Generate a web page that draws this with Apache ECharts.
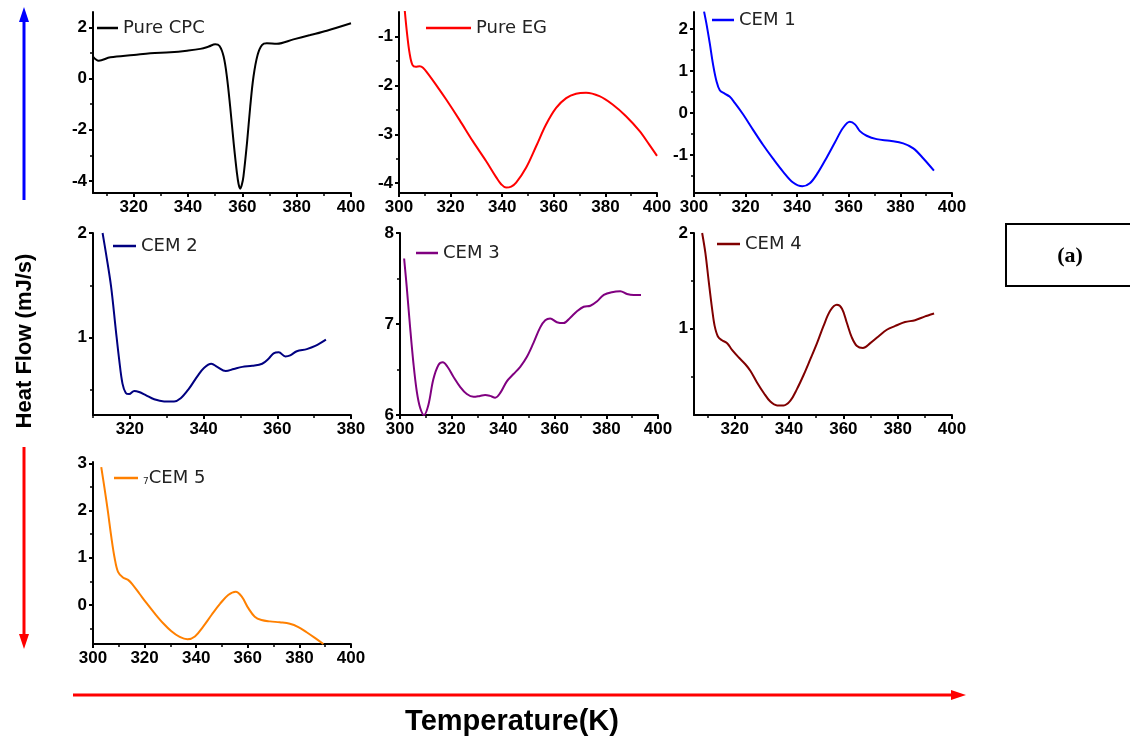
<!DOCTYPE html>
<html>
<head>
<meta charset="utf-8">
<script src="https://cdn.jsdelivr.net/npm/echarts@6/dist/echarts.min.js"></script>
<style>
html,body{margin:0;padding:0;background:#fff;}
#c{width:1130px;height:740px;}
</style>
</head>
<body>
<div id="c"></div>
<script>
// ---------- data ----------
const seriesNames = ['Pure CPC', 'Pure EG', 'CEM 1', 'CEM 2', 'CEM 3', 'CEM 4', 'CEM 5'];

const cpcT  = [305.0, 307.1, 311.4, 320, 326.1, 333.5, 339.6, 344.5, 347.6, 350, 351.6, 353.1, 354.3, 355.5, 356.8, 358, 358.6, 359.2, 359.8, 360.4, 361.7, 362.9, 364.1, 365.6, 367.2, 369, 372.7, 378.8, 385, 391.1, 400];
const cpcHF = [0.86, 0.70, 0.83, 0.92, 0.99, 1.03, 1.09, 1.16, 1.25, 1.34, 1.27, 0.86, 0.08, -1.09, -2.52, -3.69, -4.12, -4.30, -4.15, -3.82, -2.52, -1.09, 0.08, 0.92, 1.31, 1.38, 1.36, 1.53, 1.70, 1.87, 2.16];

const egT  = [302.2, 303.1, 304.1, 305.2, 306.5, 308, 309.3, 311.2, 314.5, 318.3, 323.5, 328.6, 333.8, 337.7, 339.6, 341.5, 343.5, 345.4, 349.3, 353.2, 357, 360.9, 364.8, 368.6, 372.5, 377.7, 382.8, 388, 393.2, 397, 400];
const egHF = [-0.45, -0.93, -1.34, -1.58, -1.62, -1.61, -1.64, -1.76, -2.0, -2.29, -2.71, -3.14, -3.55, -3.88, -4.02, -4.09, -4.07, -3.99, -3.68, -3.24, -2.80, -2.46, -2.26, -2.17, -2.15, -2.22, -2.39, -2.63, -2.93, -3.21, -3.44];

const cem1T  = [303.9, 304.8, 306.1, 307.4, 308.7, 310, 311.9, 313.8, 315.8, 319, 322.9, 326.8, 330.7, 334.5, 338.4, 342, 344.9, 348.1, 351.4, 354.6, 357.8, 360.4, 362.4, 364.3, 366.9, 370.8, 375.9, 381.1, 385, 388.9, 393];
const cem1HF = [2.41, 2.13, 1.66, 1.15, 0.76, 0.54, 0.46, 0.39, 0.24, -0.03, -0.40, -0.76, -1.09, -1.39, -1.65, -1.74, -1.67, -1.41, -1.06, -0.70, -0.35, -0.21, -0.27, -0.43, -0.54, -0.62, -0.66, -0.72, -0.84, -1.08, -1.37];

const cem2T  = [312.6, 313.5, 314.9, 316.2, 317.1, 318, 318.9, 319.8, 321.2, 322.5, 324.3, 326.6, 329.3, 332, 333.8, 336, 338.3, 340.1, 342.1, 343.7, 346, 348.2, 350.5, 353.2, 355.9, 357.7, 359, 360.4, 362.2, 363.5, 365.3, 368, 370.3, 373.2];
const cem2HF = [2.0, 1.81, 1.49, 1.07, 0.79, 0.56, 0.47, 0.46, 0.49, 0.48, 0.45, 0.41, 0.39, 0.39, 0.42, 0.51, 0.63, 0.71, 0.75, 0.72, 0.68, 0.70, 0.72, 0.73, 0.75, 0.80, 0.85, 0.86, 0.82, 0.83, 0.87, 0.89, 0.92, 0.98];

const cem3T  = [301.6, 302.6, 303.9, 305.2, 306.5, 307.8, 309.3, 311, 312.9, 314.9, 316.6, 318.4, 320.7, 323.3, 325.9, 328.5, 331, 333, 334.9, 336.9, 338.8, 341.4, 344, 346.6, 349.2, 351.7, 354.3, 356.3, 358.2, 360.8, 363.4, 366, 368.6, 371.2, 373.8, 376.4, 379, 382.1, 385.4, 388, 390.6, 393.4];
const cem3HF = [7.72, 7.41, 6.97, 6.57, 6.26, 6.08, 6.0, 6.11, 6.39, 6.55, 6.58, 6.53, 6.42, 6.31, 6.23, 6.20, 6.21, 6.22, 6.21, 6.19, 6.24, 6.37, 6.45, 6.53, 6.64, 6.79, 6.96, 7.04, 7.06, 7.02, 7.01, 7.07, 7.14, 7.19, 7.20, 7.25, 7.32, 7.35, 7.36, 7.33, 7.32, 7.32];

const cem4T  = [308, 309.2, 310.4, 311.7, 312.6, 313.8, 315.3, 317.2, 319, 321.5, 323.9, 325.8, 328.2, 330.7, 333.1, 335.6, 338, 340.5, 342.9, 345.4, 347.8, 350.3, 352.7, 355.2, 357.6, 359.5, 361.3, 363.1, 365, 367.2, 369.9, 372.9, 376, 379.1, 382.7, 386.4, 390.1, 393.4];
const cem4HF = [2.0, 1.79, 1.50, 1.20, 1.03, 0.92, 0.88, 0.85, 0.78, 0.70, 0.63, 0.56, 0.44, 0.33, 0.24, 0.20, 0.20, 0.25, 0.37, 0.52, 0.68, 0.85, 1.03, 1.19, 1.25, 1.21, 1.06, 0.91, 0.82, 0.80, 0.85, 0.92, 0.99, 1.03, 1.07, 1.09, 1.13, 1.16];

const cem5T  = [303.2, 304.5, 305.8, 307.1, 308.4, 309.7, 311.6, 313.6, 315.5, 318.1, 320.7, 323.9, 327.2, 330.4, 333.6, 336.6, 339.5, 342.7, 346, 349.2, 352.4, 355.3, 357.6, 360.2, 362.7, 365.3, 368.6, 372.4, 376.3, 379.6, 382.8, 386, 389.3];
const cem5HF = [2.92, 2.46, 1.97, 1.44, 0.99, 0.70, 0.58, 0.53, 0.42, 0.23, 0.04, -0.18, -0.39, -0.56, -0.68, -0.73, -0.67, -0.46, -0.21, 0.02, 0.21, 0.28, 0.18, -0.07, -0.25, -0.32, -0.35, -0.37, -0.40, -0.47, -0.58, -0.70, -0.83];

// tick labels (major) and minor tick positions
const xMajorA = [320, 340, 360, 380, 400];
const xMajorB = [300, 320, 340, 360, 380, 400];
const xMajorC = [320, 340, 360, 380];
const xMinorA = [310, 330, 350, 370, 390];
const xMinorC = [310, 330, 350, 370];

const yMajor = [[-4, -2, 0, 2], [-4, -3, -2, -1], [-1, 0, 1, 2], [1, 2], [6, 7, 8], [1, 2], [0, 1, 2, 3]];
const yMinor = [[-3, -1, 1], [-3.5, -2.5, -1.5], [-1.5, -0.5, 0.5, 1.5], [0.5, 1.5], [6.5, 7.5], [0.5, 1.5], [-0.5, 0.5, 1.5, 2.5]];
const xRanges = [[305, 400], [300, 400], [300, 400], [310, 380], [300, 400], [305, 400], [300, 400]];
const yRanges = [[-4.47, 2.6], [-4.2, -0.5], [-1.9, 2.4], [0.26, 2], [6, 8], [0.1, 2], [-0.83, 3.03]];

// ---------- layout / style ----------
const xs = [cpcT, egT, cem1T, cem2T, cem3T, cem4T, cem5T];
const ys = [cpcHF, egHF, cem1HF, cem2HF, cem3HF, cem4HF, cem5HF];
const colors = ['#000000', '#ff0000', '#0000ff', '#000080', '#800080', '#800000', '#ff8000'];
const xMajors = [xMajorA, xMajorB, xMajorB, xMajorC, xMajorB, xMajorA, xMajorB];
const xMinors = [xMinorA, xMinorA, xMinorA, xMinorC, xMinorA, xMinorA, xMinorA];

const gridPos = [
  {left: 93, top: 12, width: 258, height: 181},
  {left: 399, top: 12, width: 258, height: 181},
  {left: 694, top: 12, width: 258, height: 181},
  {left: 93, top: 233, width: 258, height: 182},
  {left: 400, top: 233, width: 258, height: 182},
  {left: 694, top: 233, width: 258, height: 182},
  {left: 93, top: 462, width: 258, height: 182}
];
const legendPos = [
  {left: 97, top: 19, w: 21},
  {left: 426, top: 19, w: 45},
  {left: 712, top: 11, w: 22},
  {left: 113, top: 237, w: 23},
  {left: 416, top: 244, w: 22},
  {left: 717, top: 235, w: 23},
  {left: 114, top: 469, w: 24}
];

const tickFont = {color: '#000', fontWeight: 'bold', fontSize: 17, fontFamily: 'Liberation Sans, Arial, sans-serif'};
const legendFont = 'DejaVu Sans, sans-serif';

const option = {
  animation: false,
  backgroundColor: '#fff',
  grid: [], xAxis: [], yAxis: [], series: [], legend: [],
  graphic: []
};

for (let i = 0; i < 7; i++) {
  option.grid.push(Object.assign({containLabel: false}, gridPos[i]));
  const xr = xRanges[i], yr = yRanges[i];
  option.xAxis.push({
    gridIndex: i, type: 'value', min: xr[0], max: xr[1], position: 'bottom',
    axisLine: {show: true, onZero: false, lineStyle: {color: '#000', width: 2}},
    splitLine: {show: false},
    axisTick: {show: true, customValues: xMajors[i], length: 4, lineStyle: {color: '#000', width: 2}},
    axisLabel: Object.assign({customValues: xMajors[i], margin: 6, showMinLabel: true, showMaxLabel: true}, tickFont)
  });
  option.xAxis.push({
    gridIndex: i, type: 'value', min: xr[0], max: xr[1], position: 'bottom',
    axisLine: {show: false, onZero: false},
    splitLine: {show: false},
    axisTick: {show: true, customValues: xMinors[i], length: 3, lineStyle: {color: '#000', width: 1.5}},
    axisLabel: {show: false}
  });
  option.yAxis.push({
    gridIndex: i, type: 'value', min: yr[0], max: yr[1], position: 'left',
    axisLine: {show: true, onZero: false, lineStyle: {color: '#000', width: 2}},
    splitLine: {show: false},
    axisTick: {show: true, customValues: yMajor[i], length: 4, lineStyle: {color: '#000', width: 2}},
    axisLabel: Object.assign({customValues: yMajor[i], margin: 6, showMinLabel: true, showMaxLabel: true}, tickFont)
  });
  option.yAxis.push({
    gridIndex: i, type: 'value', min: yr[0], max: yr[1], position: 'left',
    axisLine: {show: false, onZero: false},
    splitLine: {show: false},
    axisTick: {show: true, customValues: yMinor[i], length: 3, lineStyle: {color: '#000', width: 1.5}},
    axisLabel: {show: false}
  });
  option.series.push({
    name: seriesNames[i], type: 'line',
    xAxisIndex: 2 * i, yAxisIndex: 2 * i,
    data: xs[i].map((x, k) => [x, ys[i][k]]),
    symbol: 'none', showSymbol: false, smooth: 0.35, clip: true,
    lineStyle: {color: colors[i], width: 2},
    itemStyle: {color: colors[i]}
  });
  const lp = legendPos[i];
  option.legend.push({
    data: [seriesNames[i]], left: lp.left, top: lp.top, padding: 0,
    icon: 'rect', itemWidth: lp.w, itemHeight: 2.5, selectedMode: false,
    formatter: i === 6 ? '{s|7}{n|CEM 5}' : undefined,
    textStyle: {fontFamily: legendFont, fontSize: 18, color: '#222',
      rich: {s: {fontFamily: legendFont, fontSize: 9, color: '#222', padding: [8, 0, 0, 0]}, n: {fontFamily: legendFont, fontSize: 18, color: '#222'}}}
  });
}

// decorations: arrows, axis titles, panel tag
option.graphic = [
  {type: 'line', shape: {x1: 24, y1: 200, x2: 24, y2: 20}, style: {stroke: '#0000ff', lineWidth: 3}},
  {type: 'polygon', shape: {points: [[24, 7], [19, 22], [29, 22]]}, style: {fill: '#0000ff'}},
  {type: 'line', shape: {x1: 24, y1: 447, x2: 24, y2: 635}, style: {stroke: '#ff0000', lineWidth: 3}},
  {type: 'polygon', shape: {points: [[24, 649], [19, 634], [29, 634]]}, style: {fill: '#ff0000'}},
  {type: 'line', shape: {x1: 73, y1: 695, x2: 952, y2: 695}, style: {stroke: '#ff0000', lineWidth: 3}},
  {type: 'polygon', shape: {points: [[966, 695], [951, 690], [951, 700]]}, style: {fill: '#ff0000'}},
  {type: 'text', x: 25, y: 341, rotation: Math.PI / 2,
    style: {text: 'Heat Flow (mJ/s)', font: 'bold 22px "Liberation Sans", Arial, sans-serif', fill: '#000',
      align: 'center', verticalAlign: 'middle', textAlign: 'center', textVerticalAlign: 'middle'}},
  {type: 'text', x: 512, y: 722,
    style: {text: 'Temperature(K)', font: 'bold 29px "Liberation Sans", Arial, sans-serif', fill: '#000',
      align: 'center', verticalAlign: 'middle', textAlign: 'center', textVerticalAlign: 'middle'}},
  {type: 'rect', shape: {x: 1006, y: 224, width: 140, height: 62}, style: {fill: '#fff', stroke: '#000', lineWidth: 2}},
  {type: 'text', x: 1070, y: 256,
    style: {text: '(a)', font: 'bold 22px "Liberation Serif", "Times New Roman", serif', fill: '#000',
      align: 'center', verticalAlign: 'middle', textAlign: 'center', textVerticalAlign: 'middle'}}
];

const chart = echarts.init(document.getElementById('c'), null, {renderer: 'canvas'});
chart.setOption(option);
</script>
</body>
</html>
